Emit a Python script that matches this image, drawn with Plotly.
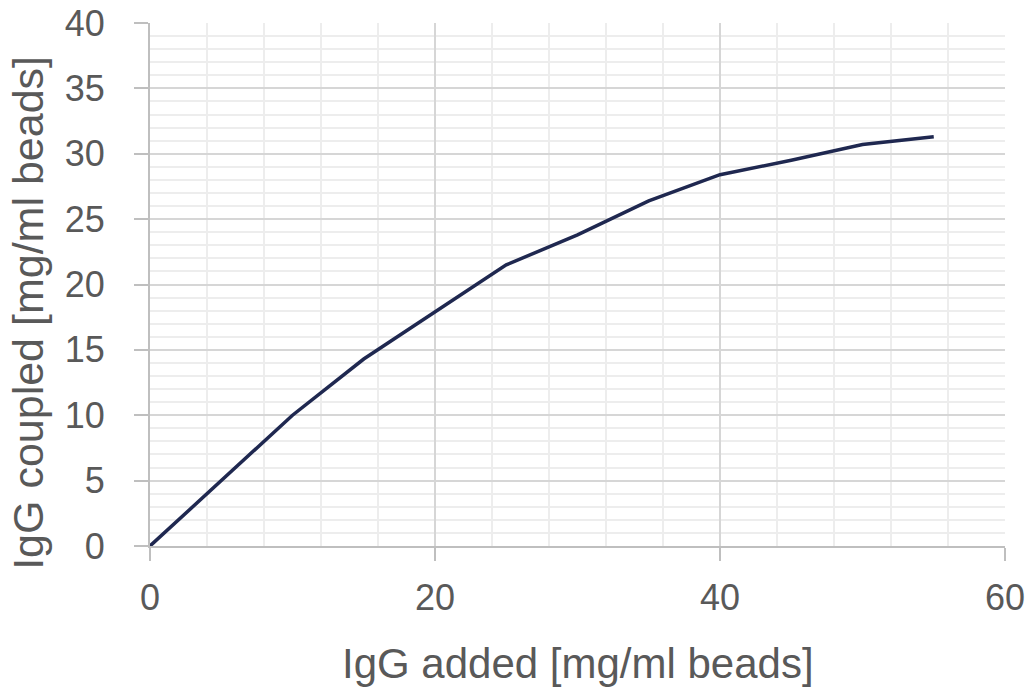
import plotly.graph_objects as go

igg_added = [0, 5, 10, 15, 20, 25, 30, 35, 40, 45, 50, 55]
igg_coupled = [0, 5.0, 10.0, 14.3, 17.9, 21.5, 23.8, 26.4, 28.4, 29.5, 30.7, 31.3]
x_ticks = [0, 20, 40, 60]
y_ticks = [0, 5, 10, 15, 20, 25, 30, 35, 40]
x_title = "IgG added [mg/ml beads]"
y_title = "IgG coupled [mg/ml beads]"

fig = go.Figure(go.Scatter(x=igg_added, y=igg_coupled, mode="lines",
                           line=dict(color="#1f2850", width=3.5)))

family = "Liberation Sans, Arial"
grey = "#595959"
tick_font = dict(family=family, size=36, color=grey)

fig.update_layout(
    width=1036, height=688,
    margin=dict(l=150, r=31, t=23, b=142),
    paper_bgcolor="white", plot_bgcolor="white",
    showlegend=False,
    font=dict(family=family, color=grey),
    annotations=[
        dict(text=x_title, xref="paper", yref="paper", x=0.5, y=-0.224,
             xanchor="center", yanchor="middle", showarrow=False,
             font=dict(family=family, size=42, color=grey)),
        dict(text=y_title, xref="paper", yref="paper", x=-0.142, y=0.445,
             xanchor="center", yanchor="middle", showarrow=False, textangle=-90,
             font=dict(family=family, size=43, color=grey)),
    ],
)
fig.update_xaxes(range=[0, 60], tickvals=x_ticks, showline=True, linecolor="#bfbfbf", linewidth=2,
                 gridcolor="#d6d6d6", gridwidth=2, zeroline=False, automargin=False,
                 minor=dict(dtick=4, showgrid=True, gridcolor="#ededed", gridwidth=2),
                 ticks="outside", ticklen=13, tickwidth=2, tickcolor="#bfbfbf",
                 ticklabelstandoff=6, tickfont=tick_font)
fig.update_yaxes(range=[0, 40], tickvals=y_ticks, showline=True, linecolor="#bfbfbf", linewidth=2,
                 gridcolor="#d6d6d6", gridwidth=2, zeroline=False, automargin=False,
                 minor=dict(dtick=1, showgrid=True, gridcolor="#ededed", gridwidth=2),
                 ticks="outside", ticklen=14, tickwidth=2, tickcolor="#bfbfbf",
                 ticklabelstandoff=22, tickfont=tick_font)
fig.write_html("out.html", config={"displayModeBar": False},
               post_script="document.body.style.margin='0px';document.body.style.overflow='hidden';")
